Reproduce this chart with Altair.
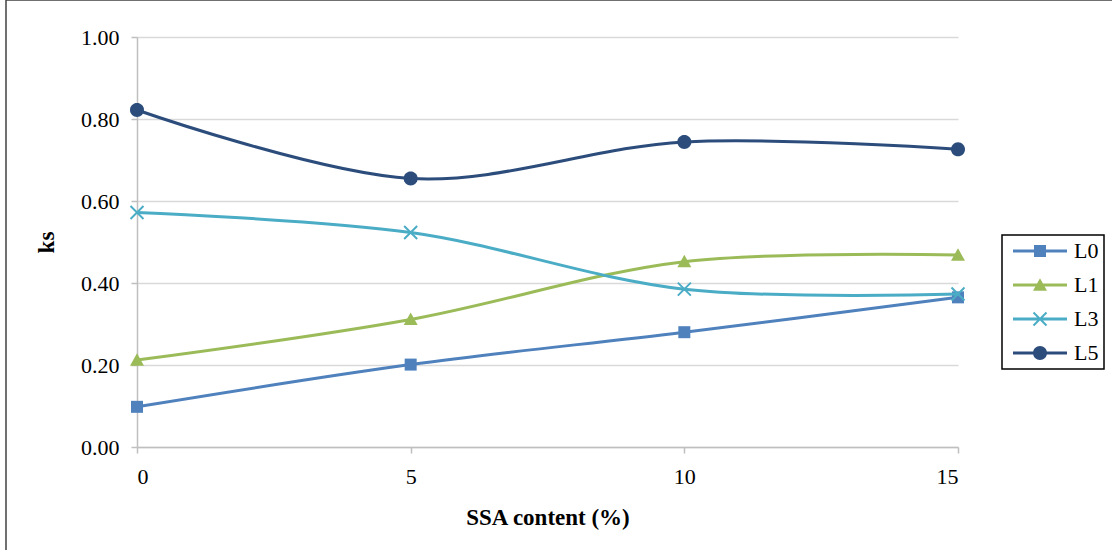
import math
import altair as alt
import pandas as pd

# SSA content (%) on the x axis
ssa_content = [0, 5, 10, 15]
series_names = ["L0", "L1", "L3", "L5"]
# ks values per series
ks_L0 = [0.098, 0.201, 0.280, 0.365]
ks_L1 = [0.212, 0.311, 0.452, 0.468]
ks_L3 = [0.572, 0.523, 0.385, 0.373]
ks_L5 = [0.822, 0.655, 0.744, 0.726]
series_colors = ["#4F81BD", "#9BBB59", "#4BACC6", "#2C4D7C"]
y_ticks = [0.0, 0.2, 0.4, 0.6, 0.8, 1.0]
x_ticks = [0, 5, 10, 15]

FONT = "Liberation Serif"

rows = []
for name, vals in zip(series_names, [ks_L0, ks_L1, ks_L3, ks_L5]):
    for x, v in zip(ssa_content, vals):
        rows.append({"ssa": x, "ks": v, "series": name})
df = pd.DataFrame(rows)


# ---- marker glyphs built as filled SVG paths (pixel units, centred on 0,0) ----
def poly_path(points, unit):
    area = sum(x1 * y2 - x2 * y1 for (x1, y1), (x2, y2) in zip(points, points[1:] + points[:1]))
    if area < 0:
        points = points[::-1]
    return "M" + "L".join(f"{x / unit:.4f},{y / unit:.4f}" for x, y in points) + "Z"


def square(h):
    return [[(-h, -h), (h, -h), (h, h), (-h, h)]]


def triangle(w, h):
    return [[(0, -h * 0.55), (w / 2, h * 0.45), (-w / 2, h * 0.45)]]


def circle(r, n=32):
    return [[(r * math.cos(2 * math.pi * i / n), r * math.sin(2 * math.pi * i / n)) for i in range(n)]]


def xmark(half, t):
    out = []
    for dx, dy in [(1, 1), (1, -1)]:
        L = half * math.sqrt(2)
        d = (dx / math.sqrt(2), dy / math.sqrt(2))
        nrm = (-d[1], d[0])
        out.append([
            (L * d[0] + t / 2 * nrm[0], L * d[1] + t / 2 * nrm[1]),
            (L * d[0] - t / 2 * nrm[0], L * d[1] - t / 2 * nrm[1]),
            (-L * d[0] - t / 2 * nrm[0], -L * d[1] - t / 2 * nrm[1]),
            (-L * d[0] + t / 2 * nrm[0], -L * d[1] + t / 2 * nrm[1]),
        ])
    return out


def segment(half_len, t):
    return [[(-half_len, -t / 2), (half_len, -t / 2), (half_len, t / 2), (-half_len, t / 2)]]


def to_path(polys, unit):
    return "".join(poly_path(p, unit) for p in polys)


glyphs = [square(6), triangle(14, 12.5), xmark(6.5, 2.0), circle(7)]

MARK_SIZE = 100            # symbol size -> unit of sqrt(100)/2 px
MARK_UNIT = math.sqrt(MARK_SIZE) / 2
LEG_SIZE = 22 ** 2         # nominal legend symbol box of 22 px
LEG_UNIT = math.sqrt(LEG_SIZE) / 2

marker_paths = [to_path(g, MARK_UNIT) for g in glyphs]
legend_paths = [to_path(segment(27, 3.0) + g, LEG_UNIT) for g in glyphs]

x_enc = alt.X("ssa:Q", scale=alt.Scale(domain=[0, 15], nice=False, zero=False),
              axis=alt.Axis(values=x_ticks, format="d", title="SSA content (%)",
                            grid=False, tickSize=6, labelPadding=13, titlePadding=19))
y_enc = alt.Y("ks:Q", scale=alt.Scale(domain=[0, 1], nice=False),
              axis=alt.Axis(values=y_ticks, format=".2f", title="ks",
                            grid=True, tickSize=6, labelPadding=12, titlePadding=22))

# one line + marker layer per series, drawn in series order
series_layers = []
for i, (name, color, path) in enumerate(zip(series_names, series_colors, marker_paths)):
    sub = alt.Chart(df).transform_filter(alt.datum.series == name)
    line = sub.mark_line(interpolate="catmull-rom", strokeWidth=3, color=color).encode(
        x=x_enc if i == 0 else alt.X("ssa:Q"),
        y=y_enc if i == 0 else alt.Y("ks:Q"),
    )
    pts = sub.mark_point(shape=path, size=MARK_SIZE, filled=True, opacity=1, color=color).encode(
        x="ssa:Q", y="ks:Q"
    )
    series_layers += [line, pts]

# invisible layer that only carries the legend (line sample + marker symbols)
legend_spec = alt.Legend(title=None, orient="none", legendX=865, legendY=198,
                         labelExpr="datum.label + '\u00a0\u00a0'")
legend_layer = alt.Chart(df).mark_point(filled=True, opacity=0).encode(
    x="ssa:Q", y="ks:Q",
    color=alt.Color("series:N", scale=alt.Scale(domain=series_names, range=series_colors),
                    legend=legend_spec),
    shape=alt.Shape("series:N", scale=alt.Scale(domain=series_names, range=legend_paths),
                    legend=legend_spec),
)

# outer border: left and top edges of the figure frame
frame_data = alt.Data(values=[{"f": 1}])
frame_left = alt.Chart(frame_data).mark_rule(color="#404040", strokeWidth=1.5).encode(
    x=alt.value(-131), y=alt.value(-37), y2=alt.value(520))
frame_top = alt.Chart(frame_data).mark_rule(color="#404040", strokeWidth=1.5).encode(
    x=alt.value(-131), x2=alt.value(1000), y=alt.value(-37))

chart = alt.layer(frame_left, frame_top, *series_layers, legend_layer).properties(
    width=821, height=410,
    autosize=alt.AutoSizeParams(type="none"),
    padding={"left": 137, "top": 37, "right": 154, "bottom": 103},
).configure_view(stroke=None).configure_axis(
    labelFont=FONT, labelFontSize=22, labelColor="black",
    titleFont=FONT, titleFontSize=23, titleFontWeight="bold", titleColor="black",
    domainColor="#BFBFBF", domainWidth=1.5, tickColor="#BFBFBF", tickWidth=1.5,
    gridColor="#D9D9D9", gridWidth=1.5,
).configure_legend(
    labelFont=FONT, labelFontSize=22, labelColor="black",
    symbolSize=LEG_SIZE, symbolStrokeWidth=0, symbolOpacity=1,
    symbolOffset=22, labelOffset=23,
    strokeColor="black", strokeWidth=1.5, padding=5, rowPadding=12,
)

chart.save("out.html", embed_options={"renderer": "svg", "actions": False})
